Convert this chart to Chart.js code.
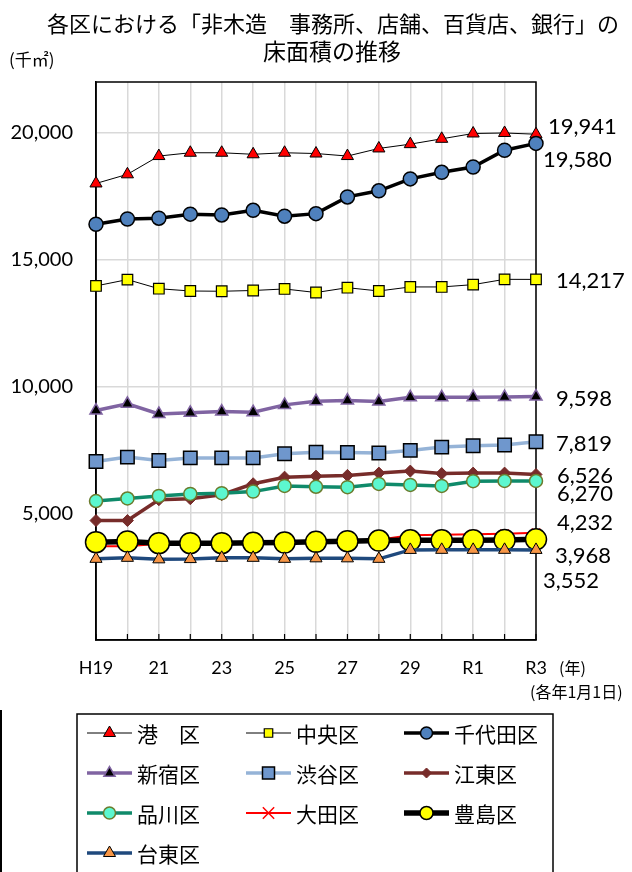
<!DOCTYPE html>
<html lang="ja">
<head>
<meta charset="utf-8">
<script src="https://cdn.jsdelivr.net/npm/chart.js@4/dist/chart.umd.min.js"></script>
<style>
  html, body { margin: 0; padding: 0; background: #ffffff; }
  #wrap { position: relative; width: 632px; height: 872px; }
</style>
</head>
<body>
<div id="wrap"><canvas id="c" width="632" height="872"></canvas></div>
<script>
// 年次（各年1月1日）
const categories = ['H19','20','21','22','23','24','25','26','27','28','29','30','R1','R2','R3'];

// 非木造 事務所・店舗・百貨店・銀行の床面積（千㎡）
const minato    = [18000,18360,19080,19210,19210,19150,19210,19180,19080,19380,19550,19760,19970,19990,19941];
const chuo      = [13960,14210,13850,13760,13750,13780,13840,13700,13890,13760,13920,13920,14010,14220,14217];
const chiyoda   = [16390,16600,16630,16790,16760,16940,16710,16810,17470,17710,18180,18440,18650,19310,19580];
const shinjuku  = [9045,9310,8915,8955,9005,8980,9270,9415,9440,9400,9570,9570,9575,9580,9598];
const shibuya   = [7040,7210,7080,7180,7180,7180,7340,7400,7395,7370,7475,7605,7660,7685,7819];
const koto      = [4710,4710,5530,5570,5730,6160,6420,6460,6490,6580,6660,6560,6580,6580,6526];
const shinagawa = [5480,5580,5680,5760,5790,5850,6075,6040,6025,6155,6115,6075,6260,6270,6270];
const ota       = [3700,3700,3790,3800,3810,3820,3840,3870,3900,3950,4130,4150,4170,4190,4232];
const toshima   = [3855,3883,3816,3816,3816,3830,3843,3870,3896,3922,3930,3930,3930,3940,3968];
const taito     = [3200,3240,3180,3190,3240,3240,3200,3220,3220,3200,3552,3555,3555,3555,3552];

// 縦軸の目盛
const yTicks = [5000, 10000, 15000, 20000];

const names = ['港　区','中央区','千代田区','新宿区','渋谷区','江東区','品川区','大田区','豊島区','台東区'];
const values = [minato, chuo, chiyoda, shinjuku, shibuya, koto, shinagawa, ota, toshima, taito];

// 系列ごとの線・マーカーの書式（lr は凡例のマーカー半径）
const styles = [
  { line:'#000000', lw:1,   shape:'triangle', r:7,   lr:7,   fill:'#ff0000', stroke:'#000000', sw:1,   order:10 },
  { line:'#000000', lw:1,   shape:'rect',     r:7.5, lr:6,   fill:'#ffff00', stroke:'#000000', sw:1.2, order:9 },
  { line:'#000000', lw:3.5, shape:'circle',   r:7,   lr:6,   fill:'#4f81bd', stroke:'#000000', sw:1.5, order:8 },
  { line:'#8064a2', lw:3.5, shape:'triangle', r:7,   lr:6.5, fill:'#000000', stroke:'#8064a2', sw:1.5, order:7 },
  { line:'#95b3d7', lw:3.5, shape:'rect',     r:9.5, lr:8.5, fill:'#6f97cd', stroke:'#000000', sw:1.5, order:6 },
  { line:'#772c2a', lw:3.5, shape:'rectRot',  r:6,   lr:5,   fill:'#772c2a', stroke:'#772c2a', sw:1,   order:5 },
  { line:'#0f8a6a', lw:3.5, shape:'circle',   r:6.5, lr:6,   fill:'#5cf7cf', stroke:'#6b7b2c', sw:1.5, order:4 },
  { line:'#ff0000', lw:2,   shape:'crossRot', r:6,   lr:8,   fill:'#ff0000', stroke:'#ff0000', sw:1.5, order:3 },
  { line:'#000000', lw:5.5, shape:'circle',   r:10.5,lr:6.5, fill:'#ffff00', stroke:'#000000', sw:1.5, order:2 },
  { line:'#1f497d', lw:3.5, shape:'triangle', r:7,   lr:7,   fill:'#f79646', stroke:'#000000', sw:1,   order:1 }
];

// 右端の数値ラベルの位置（最終点からのずれ）
const endLabelOffsets = [
  [12, -7], [20, 2], [7, 17], [20, 2], [20, 2], [21, 1], [21, 12.5], [21, -10], [19, 17], [7, 30.5]
];

const NUM_FONT = 'Lato, "Liberation Sans", sans-serif';
const JP_FONT = '"Noto Sans CJK JP", "Noto Sans", sans-serif';

const datasets = values.map((v, i) => ({
  label: names[i],
  data: v,
  borderColor: styles[i].line,
  borderWidth: styles[i].lw,
  pointStyle: styles[i].shape,
  pointRadius: styles[i].r,
  pointBackgroundColor: styles[i].fill,
  pointBorderColor: styles[i].stroke,
  pointBorderWidth: styles[i].sw,
  tension: 0,
  fill: false,
  clip: false,
  order: styles[i].order
}));

function marker(ctx, shape, x, y, r, fill, stroke, sw) {
  ctx.save();
  ctx.beginPath();
  if (shape === 'circle') {
    ctx.arc(x, y, r, 0, Math.PI * 2);
  } else if (shape === 'rect') {
    const s = Math.SQRT1_2 * r;
    ctx.rect(x - s, y - s, 2 * s, 2 * s);
  } else if (shape === 'rectRot') {
    ctx.moveTo(x, y - r); ctx.lineTo(x + r, y); ctx.lineTo(x, y + r); ctx.lineTo(x - r, y); ctx.closePath();
  } else if (shape === 'triangle') {
    ctx.moveTo(x, y - r);
    ctx.lineTo(x + Math.sin(Math.PI * 2 / 3) * r, y - Math.cos(Math.PI * 2 / 3) * r);
    ctx.lineTo(x + Math.sin(Math.PI * 4 / 3) * r, y - Math.cos(Math.PI * 4 / 3) * r);
    ctx.closePath();
  } else if (shape === 'crossRot') {
    const d = Math.SQRT1_2 * r;
    ctx.moveTo(x - d, y - d); ctx.lineTo(x + d, y + d);
    ctx.moveTo(x + d, y - d); ctx.lineTo(x - d, y + d);
  }
  if (shape !== 'crossRot') { ctx.fillStyle = fill; ctx.fill(); }
  ctx.lineWidth = sw; ctx.strokeStyle = stroke; ctx.stroke();
  ctx.restore();
}

// 枠線と横軸の内向き目盛
const framePlugin = {
  id: 'frame',
  beforeDatasetsDraw(chart) {
    const { ctx, chartArea: a, scales } = chart;
    ctx.save();
    ctx.strokeStyle = '#000000';
    ctx.lineWidth = 1.5;
    ctx.strokeRect(a.left, a.top, a.right - a.left, a.bottom - a.top);
    ctx.lineWidth = 1.2;
    ctx.beginPath();
    categories.forEach((c, i) => {
      const x = scales.x.getPixelForValue(i);
      ctx.moveTo(x, a.bottom);
      ctx.lineTo(x, a.bottom - 6);
    });
    ctx.stroke();
    ctx.restore();
  }
};

// 表題・単位・右端ラベル・凡例
const textPlugin = {
  id: 'texts',
  afterDraw(chart) {
    const { ctx } = chart;
    ctx.save();
    ctx.fillStyle = '#000000';
    ctx.textBaseline = 'middle';

    ctx.textAlign = 'center';
    ctx.font = '22px ' + JP_FONT;
    ctx.fillText('各区における「非木造　事務所、店舗、百貨店、銀行」の', 333, 24);
    ctx.font = '23px ' + JP_FONT;
    ctx.fillText('床面積の推移', 332, 51);

    ctx.textAlign = 'left';
    ctx.font = '17px ' + JP_FONT;
    ctx.fillText('(千㎡)', 9, 60);
    ctx.font = '16px ' + JP_FONT;
    ctx.fillText('(年)', 559, 668);
    ctx.fillText('(各年1月1日)', 530, 692);

    // 最終年の値
    ctx.font = '22px ' + NUM_FONT;
    values.forEach((v, i) => {
      const meta = chart.getDatasetMeta(i);
      const pt = meta.data[v.length - 1];
      const [dx, dy] = endLabelOffsets[i];
      ctx.fillText(v[v.length - 1].toLocaleString('en-US'), pt.x + dx, pt.y + dy);
    });

    // 凡例
    ctx.strokeStyle = '#000000';
    ctx.lineWidth = 1.5;
    ctx.strokeRect(77, 714, 476, 200);
    ctx.lineWidth = 2;
    ctx.beginPath(); ctx.moveTo(1, 710); ctx.lineTo(1, 872); ctx.stroke();

    const rowsY = [733, 773, 813, 853];
    const colX = [87, 246, 404];
    ctx.font = '21px ' + JP_FONT;
    names.forEach((n, i) => {
      const s = styles[i];
      const x0 = colX[i % 3], y = rowsY[Math.floor(i / 3)];
      ctx.save();
      ctx.strokeStyle = s.line;
      ctx.lineWidth = s.lw;
      ctx.beginPath(); ctx.moveTo(x0, y); ctx.lineTo(x0 + 45, y); ctx.stroke();
      ctx.restore();
      marker(ctx, s.shape, x0 + 22.5, y, s.lr, s.fill, s.stroke, s.sw);
      ctx.fillStyle = '#000000';
      ctx.fillText(n, x0 + 50, y + 1);
    });
    ctx.restore();
  }
};

new Chart(document.getElementById('c'), {
  type: 'line',
  data: { labels: categories, datasets },
  options: {
    responsive: false,
    animation: false,
    events: [],
    layout: { padding: { left: 0, top: 82, right: 96, bottom: 192 } },
    plugins: { legend: { display: false }, tooltip: { enabled: false }, title: { display: false } },
    scales: {
      x: {
        offset: false,
        grid: { color: '#d9d9d9', lineWidth: 1.5, drawTicks: false },
        border: { display: true, color: '#000000', width: 1.5 },
        ticks: {
          autoSkip: false, maxRotation: 0, minRotation: 0, padding: 17,
          color: '#000000', font: { family: NUM_FONT, size: 18 },
          callback: (v, i) => (i % 2 === 0 ? categories[i] : '')
        },
        afterFit: (s) => { s.height = 40; }
      },
      y: {
        min: 0, max: 22000,
        afterBuildTicks: (s) => { s.ticks = yTicks.map(v => ({ value: v })); },
        grid: { color: '#d9d9d9', lineWidth: 1.5, drawTicks: false },
        border: { display: true, color: '#000000', width: 1.5 },
        ticks: {
          padding: 23, color: '#000000', font: { family: NUM_FONT, size: 20 },
          callback: (v) => v.toLocaleString('en-US')
        },
        afterFit: (s) => { s.width = 96; }
      }
    }
  },
  plugins: [framePlugin, textPlugin]
});
</script>
</body>
</html>
